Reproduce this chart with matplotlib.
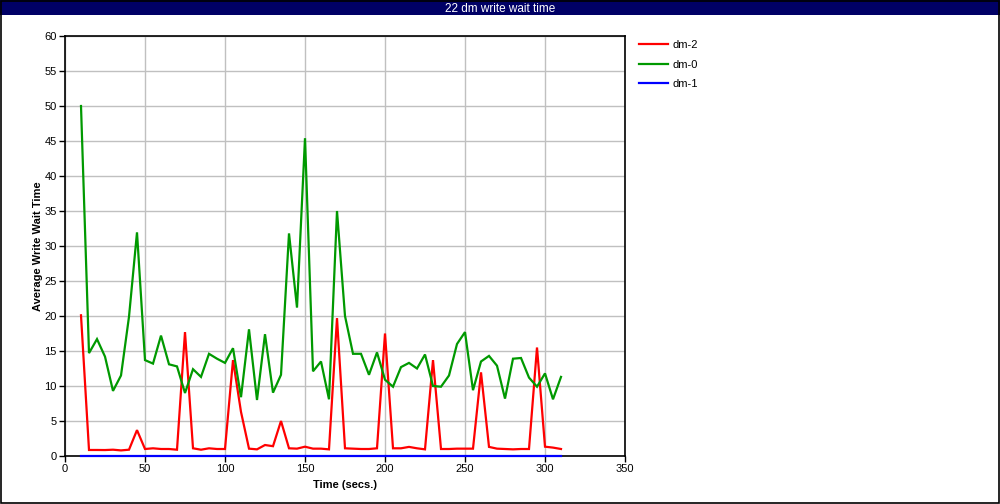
import matplotlib
matplotlib.use("Agg")
import matplotlib.pyplot as plt
from matplotlib.patches import Rectangle

plt.rcParams['font.family'] = ['Liberation Sans', 'DejaVu Sans']

time = list(range(10, 315, 5))
dm2 = [20.1, 0.86, 0.86, 0.85, 0.9, 0.8, 0.9, 3.7, 1.0, 1.1, 1.0, 1.0, 0.9,
       17.7, 1.1, 0.9, 1.1, 1.0, 1.0, 13.7, 6.3, 1.05, 0.95, 1.57, 1.4, 5.0,
       1.1, 1.05, 1.33, 1.05, 1.05, 0.95, 19.7, 1.1, 1.05, 1.0, 1.0, 1.1, 17.5,
       1.1, 1.1, 1.3, 1.1, 0.95, 13.7, 1.0, 1.0, 1.05, 1.05, 1.05, 11.95, 1.3,
       1.05, 1.0, 0.95, 1.0, 1.0, 15.5, 1.33, 1.2, 1.0]
dm0 = [50.0, 14.7, 16.7, 14.2, 9.3, 11.5, 19.9, 31.95, 13.7, 13.2, 17.2, 13.1,
       12.8, 9.0, 12.4, 11.3, 14.6, 13.9, 13.3, 15.4, 8.4, 18.1, 8.0, 17.4, 9.05,
       11.6, 31.8, 21.2, 45.4, 12.1, 13.5, 8.1, 35.0, 20.0, 14.6, 14.6, 11.6,
       14.8, 10.9, 9.9, 12.7, 13.3, 12.5, 14.5, 10.0, 9.9, 11.5, 16.0, 17.7, 9.4,
       13.5, 14.3, 12.9, 8.2, 13.9, 14.0, 11.2, 9.9, 11.8, 8.1, 11.3]
dm1 = [0.0] * len(time)

series_names = ['dm-2', 'dm-0', 'dm-1']
series_colors = ['#ff0000', '#009900', '#0000ff']

fig = plt.figure(figsize=(10, 5.04), dpi=100)
W, H = 1000, 504

# Title bar
fig.patches.append(Rectangle((0, 1 - 15 / H), 1, 15 / H, transform=fig.transFigure,
                             facecolor='#000066', edgecolor='none', zorder=0))
fig.text(0.5, 1 - 8.5 / H, '22 dm write wait time', color='white', ha='center',
         va='center', fontsize=8.5)
# Outer border
fig.patches.append(Rectangle((0.0005, 0.001), 0.998, 0.997, transform=fig.transFigure,
                             facecolor='none', edgecolor='black', linewidth=1.2, zorder=5))

ax = fig.add_axes([65 / W, (H - 456) / H, (625 - 65) / W, (456 - 36) / H])
for name, vals, c in zip(series_names, [dm2, dm0, dm1], series_colors):
    ax.plot(time, vals, color=c, linewidth=1.6, label=name, solid_joinstyle='miter',
            clip_on=False, zorder=3)

ax.set_xlim(0, 350)
ax.set_ylim(0, 60)
ax.set_xticks(range(0, 351, 50))
ax.set_yticks(range(0, 61, 5))
ax.grid(True, color='#c0c0c0', linewidth=1.0)
ax.set_axisbelow(True)
ax.tick_params(direction='out', length=4, width=1, labelsize=8, pad=2)
for s in ax.spines.values():
    s.set_linewidth(1.2)
    s.set_zorder(2)
ax.set_xlabel('Time (secs.)', fontsize=8, fontweight='bold', labelpad=4)
ax.set_ylabel('Average Write Wait Time', fontsize=8, fontweight='bold', labelpad=1)

ax.legend(loc='upper left', bbox_to_anchor=(1.013, 1.006), frameon=False, fontsize=8,
          handlelength=2.6, handletextpad=0.4, labelspacing=0.85, borderaxespad=0.2)

fig.savefig('out.png', dpi=100)
